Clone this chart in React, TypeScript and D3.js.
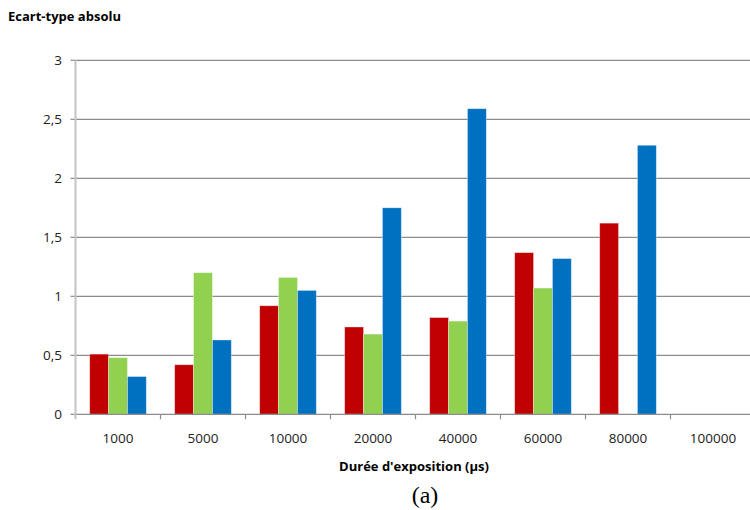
import React from "react";
import * as d3 from "d3";

const categories = ["1000", "5000", "10000", "20000", "40000", "60000", "80000", "100000"];
const seriesRed = [0.51, 0.42, 0.92, 0.74, 0.82, 1.37, 1.62, null];
const seriesGreen = [0.48, 1.2, 1.16, 0.68, 0.79, 1.07, null, null];
const seriesBlue = [0.32, 0.63, 1.05, 1.75, 2.59, 1.32, 2.28, null];
const yTicks = [0, 0.5, 1, 1.5, 2, 2.5, 3];
const seriesColors = ["#C00000", "#92D050", "#0070C0"];

const W = 750;
const H = 510;
const left = 75.5;
const right = 755.5;
const top = 60.3;
const bottom = 414.3;

export default function App() {
  const x = d3.scaleBand<string>().domain(categories).range([left, right]).paddingInner(0).paddingOuter(0);
  const y = d3.scaleLinear().domain([0, 3]).range([bottom, top]);
  const series = [seriesRed, seriesGreen, seriesBlue];
  const bw = x.bandwidth();
  const barW = bw / 4.5;
  const inner = d3.scaleBand<number>().domain([0, 1, 2]).range([0, barW * 3]);
  const groupOffset = (bw - barW * 3) / 2;
  const fmt = (v: number) => String(v).replace(".", ",");
  const font = "'Open Sans', 'Noto Sans', sans-serif";

  return (
    <div style={{ position: "absolute", left: 0, top: 0 }}>
      <svg width={W} height={H} style={{ display: "block", background: "#fff" }}>
        <text x={8} y={21} fontFamily={font} fontWeight="bold" fontSize={13} fill="#000">
          Ecart-type absolu
        </text>
        {yTicks.map((t) => (
          <g key={t}>
            {t > 0 && (
              <line x1={left} x2={right} y1={y(t)} y2={y(t)} stroke="#8c8c8c" strokeWidth={1.2} />
            )}
            <line x1={left - 5} x2={left} y1={y(t)} y2={y(t)} stroke="#8c8c8c" strokeWidth={1.2} />
            <text
              x={62}
              y={y(t)}
              dy="0.35em"
              textAnchor="end"
              fontFamily={font}
              fontSize={13.5}
              fill="#222"
            >
              {fmt(t)}
            </text>
          </g>
        ))}
        {series.map((vals, si) =>
          vals.map((v, ci) =>
            v == null ? null : (
              <rect
                key={`${si}-${ci}`}
                x={(x(categories[ci]) as number) + groupOffset + (inner(si) as number)}
                y={y(v)}
                width={barW}
                height={bottom - y(v)}
                fill={seriesColors[si]}
                stroke="rgba(255,255,255,0.45)"
                strokeWidth={0.8}
              />
            )
          )
        )}
        <line x1={left} x2={right} y1={bottom} y2={bottom} stroke="#8c8c8c" strokeWidth={1.2} />
        <line x1={left} x2={left} y1={top} y2={bottom + 5} stroke="#c4c4c4" strokeWidth={2} />
        {categories.map((c, i) =>
          i > 0 ? (
            <line
              key={"t" + c}
              x1={x(c) as number}
              x2={x(c) as number}
              y1={bottom}
              y2={bottom + 5}
              stroke="#8c8c8c"
              strokeWidth={1.2}
            />
          ) : null
        )}
        {categories.map((c) => (
          <text
            key={"l" + c}
            x={(x(c) as number) + bw / 2}
            y={443}
            textAnchor="middle"
            fontFamily={font}
            fontSize={13.5}
            fill="#222"
          >
            {c}
          </text>
        ))}
        <text x={414} y={471} textAnchor="middle" fontFamily={font} fontWeight="bold" fontSize={13} fill="#000">
          Durée d'exposition (µs)
        </text>
        <text x={425} y={503} textAnchor="middle" fontFamily="'Liberation Serif', serif" fontSize={24} fill="#000">
          (a)
        </text>
      </svg>
    </div>
  );
}
